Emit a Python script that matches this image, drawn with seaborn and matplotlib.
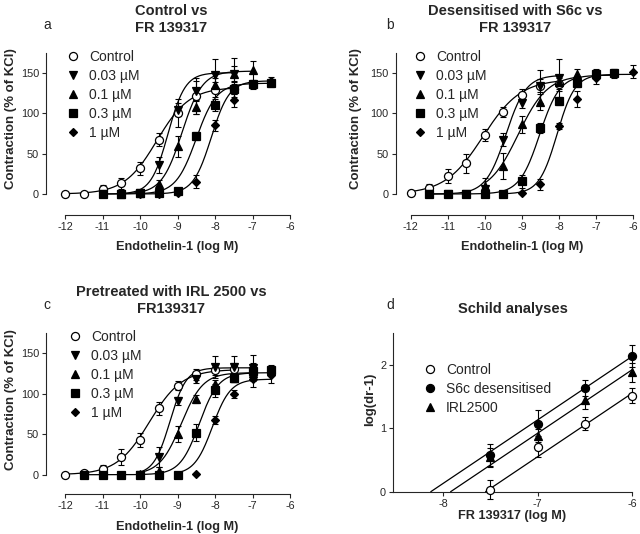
import numpy as np
import pandas as pd
import matplotlib
matplotlib.use('Agg')
import matplotlib.pyplot as plt
import seaborn as sns
from matplotlib.lines import Line2D

sns.set_style('ticks')
plt.rcParams['font.family'] = ['Liberation Sans', 'DejaVu Sans']
plt.rcParams['axes.unicode_minus'] = False

# legend labels / markers for concentration-response panels
conc_labels = ['Control', '0.03 µM', '0.1 µM', '0.3 µM', '1 µM']
conc_markers = ['o', 'v', '^', 's', 'D']

# ---- panel a: Control vs FR 139317 ----
a_ctrl_x = [-12, -11.5, -11, -10.5, -10, -9.5, -9, -8.5, -8, -7.5]
a_ctrl_y = [0, 0, 6, 13, 32, 67, 100, 121, 129, 130]
a_ctrl_e = [0, 0, 5, 7, 8, 8, 17, 22, 9, 10]
a_003_x = [-11, -10.5, -10, -9.5, -9, -8.5, -8, -7.5]
a_003_y = [0, 0, 1, 36, 104, 128, 147, 149]
a_003_e = [0, 0, 0, 10, 8, 12, 20, 19]
a_01_x = [-10.5, -10, -9.5, -9, -8.5, -8, -7.5, -7]
a_01_y = [0, 1, 12, 59, 107, 135, 148, 153]
a_01_e = [0, 0, 5, 13, 8, 8, 10, 12]
a_03_x = [-11, -10.5, -10, -9.5, -9, -8.5, -8, -7.5, -7, -6.5]
a_03_y = [0, 0, 1, 1, 4, 72, 110, 130, 136, 137]
a_03_e = [0, 0, 0, 0, 3, 5, 7, 6, 5, 5]
a_1_x = [-10, -9.5, -9, -8.5, -8, -7.5, -7, -6.5]
a_1_y = [0, 0, 1, 15, 85, 116, 135, 140]
a_1_e = [0, 0, 0, 8, 7, 8, 5, 5]
# fitted curves: top, logEC50, Hill slope
a_top = [132, 150, 152, 137, 140]
a_ec50 = [-9.55, -9.25, -8.88, -8.5, -8.1]
a_hill = [1.0, 1.9, 1.6, 1.6, 1.8]

# ---- panel b: Desensitised with S6c vs FR 139317 ----
b_ctrl_x = [-12, -11.5, -11, -10.5, -10, -9.5, -9, -8.5, -8]
b_ctrl_y = [1, 8, 22, 38, 73, 101, 123, 133, 136]
b_ctrl_e = [2, 4, 9, 12, 7, 6, 7, 20, 8]
b_003_x = [-11.5, -11, -10.5, -10, -9.5, -9, -8.5, -8]
b_003_y = [0, 0, 0, 6, 67, 112, 134, 143]
b_003_e = [0, 0, 0, 4, 8, 6, 8, 24]
b_01_x = [-10, -9.5, -9, -8.5, -8, -7.5]
b_01_y = [10, 35, 86, 114, 138, 149]
b_01_e = [10, 16, 10, 10, 8, 5]
b_03_x = [-11.5, -11, -10.5, -10, -9.5, -9, -8.5, -8, -7.5, -7, -6.5]
b_03_y = [0, 0, 0, 0, 0, 16, 82, 115, 137, 149, 150]
b_03_e = [0, 0, 0, 0, 0, 8, 6, 5, 5, 5, 5]
b_1_x = [-9.5, -9, -8.5, -8, -7.5, -7, -6.5, -6]
b_1_y = [0, 1, 12, 84, 117, 144, 149, 151]
b_1_e = [0, 0, 7, 4, 10, 8, 5, 8]
b_top = [142, 147, 147, 147, 148]
b_ec50 = [-10.05, -9.43, -9.1, -8.52, -8.05]
b_hill = [0.85, 1.6, 1.1, 1.6, 1.8]

# ---- panel c: Pretreated with IRL 2500 vs FR139317 ----
c_ctrl_x = [-12, -11.5, -11, -10.5, -10, -9.5, -9, -8.5, -8, -7.5]
c_ctrl_y = [0, 2, 7, 22, 43, 82, 110, 124, 129, 130]
c_ctrl_e = [0, 2, 5, 10, 9, 8, 6, 7, 6, 8]
c_003_x = [-10, -9.5, -9, -8.5, -8, -7.5, -7]
c_003_y = [0, 22, 91, 118, 133, 133, 132]
c_003_e = [0, 12, 5, 5, 14, 14, 16]
c_01_x = [-10, -9.5, -9, -8.5, -8, -7.5, -7]
c_01_y = [1, 5, 50, 93, 112, 120, 125]
c_01_e = [0, 4, 10, 5, 5, 6, 8]
c_03_x = [-11.5, -11, -10.5, -10, -9.5, -9, -8.5, -8, -7.5, -7, -6.5]
c_03_y = [0, 0, 0, 0, 0, 0, 52, 104, 120, 128, 129]
c_03_e = [0, 0, 0, 0, 0, 0, 10, 8, 6, 10, 6]
c_1_x = [-9, -8.5, -8, -7.5, -7, -6.5]
c_1_y = [0, 1, 68, 100, 118, 123]
c_1_e = [0, 0, 5, 5, 10, 10]
c_top = [130, 132, 126, 126, 118]
c_ec50 = [-9.75, -9.2, -8.9, -8.42, -8.07]
c_hill = [1.0, 2.0, 1.5, 1.7, 1.8]

# ---- panel d: Schild analyses ----
d_labels = ['Control', 'S6c desensitised', 'IRL2500']
d_x = [-7.5, -7, -6.5, -6]
d_ctrl_y = [0.03, 0.71, 1.07, 1.51]
d_ctrl_e = [0.15, 0.16, 0.10, 0.12]
d_s6c_y = [0.58, 1.07, 1.63, 2.14]
d_s6c_e = [0.17, 0.22, 0.13, 0.17]
d_irl_y = [0.54, 0.88, 1.45, 1.88]
d_irl_e = [0.15, 0.10, 0.15, 0.15]
d_pa2 = [7.55, 8.13, 7.92]


def mstyle(m):
    size = {'o': 5.8, 'v': 5.8, '^': 5.8, 's': 5.2, 'D': 4.0}[m]
    return size


def draw_points(ax, x, y, e, marker, face):
    ax.errorbar(x, y, yerr=e, fmt='none', ecolor='black', elinewidth=0.8,
                capsize=2.5, capthick=0.8, zorder=2)
    ax.plot(x, y, linestyle='none', marker=marker, ms=mstyle(marker),
            mfc=face, mec='black', mew=0.9, zorder=4)


def conc_panel(ax, series, tops, ec50s, hills):
    for i, (x, y, e) in enumerate(series):
        xx = np.linspace(min(x), max(x), 200)
        yy = tops[i] / (1 + 10 ** ((ec50s[i] - xx) * hills[i]))
        sns.lineplot(x=xx, y=yy, ax=ax, color='black', lw=0.9, zorder=3)
        draw_points(ax, x, y, e, conc_markers[i], 'white' if i == 0 else 'black')
    ax.set_xlim(-12, -6)
    ax.set_ylim(0, 175)
    ax.set_xticks(range(-12, -5))
    ax.set_yticks([0, 50, 100, 150])
    ax.set_xlabel('Endothelin-1 (log M)', fontsize=9.2, fontweight='bold')
    ax.set_ylabel('Contraction (% of KCl)', fontsize=9.5, fontweight='bold')


def style_axes(ax, left_off, bottom_off):
    sns.despine(ax=ax, offset={'left': left_off, 'bottom': bottom_off})
    for s in ['left', 'bottom']:
        ax.spines[s].set_linewidth(0.8)
    ax.tick_params(direction='out', length=3, width=0.8, labelsize=7.8, pad=2)
    for art in ax.get_children():
        if hasattr(art, 'set_clip_on'):
            art.set_clip_on(False)


LEG = dict(frameon=False, fontsize=10, handlelength=1.0, handletextpad=0.65,
           labelspacing=0.36, borderpad=0, borderaxespad=0, loc='upper left')


def conc_legend(ax, fx, fy):
    handles = [Line2D([], [], linestyle='none', marker=m, ms=mstyle(m),
                      mfc='white' if i == 0 else 'black', mec='black', mew=0.9)
               for i, m in enumerate(conc_markers)]
    ax.legend(handles, conc_labels, bbox_to_anchor=(fx, fy),
              bbox_transform=fig.transFigure, **LEG)


fig = plt.figure(figsize=(6.4, 5.34), dpi=100)
W, H = 640, 534


def px_axes(left, right, top, bottom):
    return fig.add_axes([left / W, 1 - bottom / H, (right - left) / W, (bottom - top) / H])


ax_a = px_axes(65, 290, 52.5, 194)
ax_b = px_axes(410.7, 633, 52.5, 194)
ax_c = px_axes(65, 290, 333, 474.7)
ax_d = px_axes(393, 632, 333, 491.7)

conc_panel(ax_a, [(a_ctrl_x, a_ctrl_y, a_ctrl_e), (a_003_x, a_003_y, a_003_e),
                  (a_01_x, a_01_y, a_01_e), (a_03_x, a_03_y, a_03_e),
                  (a_1_x, a_1_y, a_1_e)], a_top, a_ec50, a_hill)
conc_panel(ax_b, [(b_ctrl_x, b_ctrl_y, b_ctrl_e), (b_003_x, b_003_y, b_003_e),
                  (b_01_x, b_01_y, b_01_e), (b_03_x, b_03_y, b_03_e),
                  (b_1_x, b_1_y, b_1_e)], b_top, b_ec50, b_hill)
conc_panel(ax_c, [(c_ctrl_x, c_ctrl_y, c_ctrl_e), (c_003_x, c_003_y, c_003_e),
                  (c_01_x, c_01_y, c_01_e), (c_03_x, c_03_y, c_03_e),
                  (c_1_x, c_1_y, c_1_e)], c_top, c_ec50, c_hill)

# Schild plot
for i, (y, e, m, face) in enumerate([(d_ctrl_y, d_ctrl_e, 'o', 'white'),
                                      (d_s6c_y, d_s6c_e, 'o', 'black'),
                                      (d_irl_y, d_irl_e, '^', 'black')]):
    xx = np.array([-d_pa2[i], -6])
    sns.lineplot(x=xx, y=xx + d_pa2[i], ax=ax_d, color='black', lw=0.9, zorder=3)
    draw_points(ax_d, d_x, y, e, m, face)
ax_d.set_xlim(-8.53, -6)
ax_d.set_ylim(0, 2.5)
ax_d.set_xticks([-8, -7, -6])
ax_d.set_yticks([0, 1, 2])
ax_d.set_xlabel('FR 139317 (log M)', fontsize=9.2, fontweight='bold')
ax_d.set_ylabel('log(dr-1)', fontsize=9.5, fontweight='bold')

style_axes(ax_a, 13.7, 15)
style_axes(ax_b, 10.8, 15)
style_axes(ax_c, 13.7, 14)
style_axes(ax_d, 0, 0)

for ax in [ax_a, ax_b, ax_c]:
    ax.yaxis.set_label_coords(-0.215, 0.53)
    ax.xaxis.set_label_coords(0.5, -0.33)
ax_b.yaxis.set_label_coords(-0.218, 0.53)
ax_d.yaxis.set_label_coords(-0.072, 0.58)
ax_d.xaxis.set_label_coords(0.5, -0.115)

conc_legend(ax_a, 66 / W, 1 - 50 / H)
conc_legend(ax_b, 413 / W, 1 - 50 / H)
conc_legend(ax_c, 68 / W, 1 - 330 / H)
d_handles = [Line2D([], [], linestyle='none', marker=m, ms=mstyle(m), mfc=f,
                    mec='black', mew=0.9)
             for m, f in [('o', 'white'), ('o', 'black'), ('^', 'black')]]
ax_d.legend(d_handles, d_labels, bbox_to_anchor=(423 / W, 1 - 363 / H),
            bbox_transform=fig.transFigure, **LEG)

tkw = dict(ha='center', va='top', fontsize=10.5, fontweight='bold', linespacing=1.25)
fig.text(171 / W, 1 - 4 / H, 'Control vs\nFR 139317', **tkw)
fig.text(515 / W, 1 - 4 / H, 'Desensitised with S6c vs\nFR 139317', **tkw)
fig.text(171 / W, 1 - 285 / H, 'Pretreated with IRL 2500 vs\nFR139317', **tkw)
fig.text(513 / W, 1 - 302 / H, 'Schild analyses', **tkw)

lkw = dict(ha='center', va='baseline', fontsize=10)
fig.text(47 / W, 1 - 29 / H, 'a', **lkw)
fig.text(390 / W, 1 - 29 / H, 'b', **lkw)
fig.text(47 / W, 1 - 309 / H, 'c', **lkw)
fig.text(390 / W, 1 - 309 / H, 'd', **lkw)

fig.savefig('out.png', dpi=100)
